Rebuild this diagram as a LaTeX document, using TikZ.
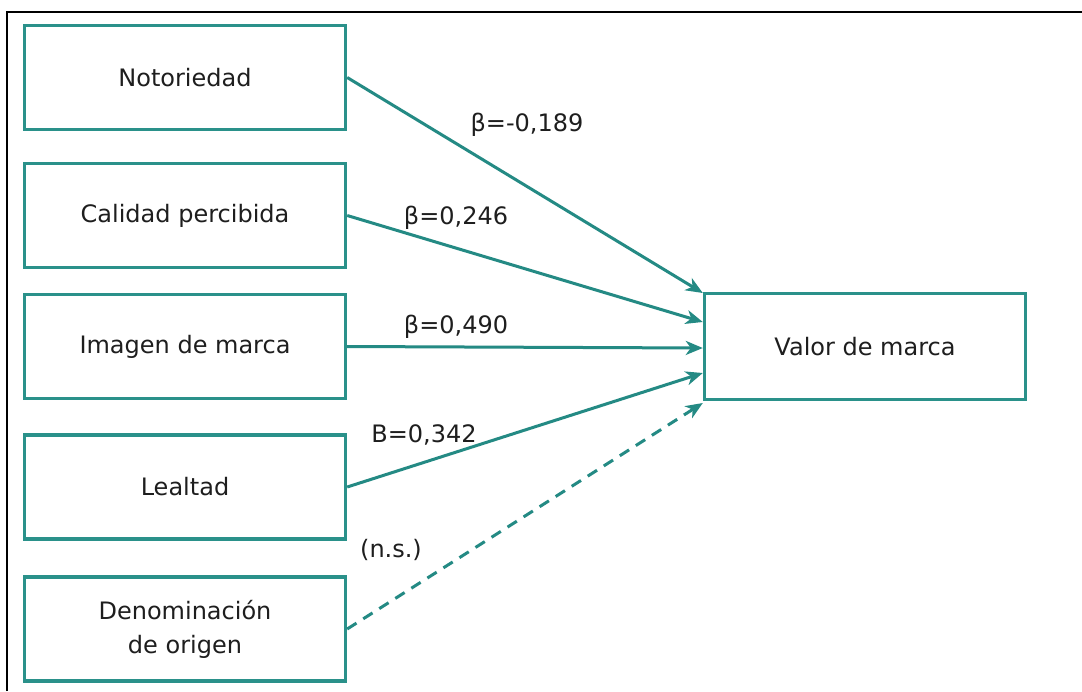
\documentclass[tikz,border=0pt]{standalone}
\usepackage{fontspec}
\setmainfont{DejaVu Sans}
\usetikzlibrary{positioning,arrows.meta,calc}
\definecolor{tealbox}{RGB}{42,145,138}
\definecolor{tealline}{RGB}{36,138,132}
\definecolor{texto}{RGB}{30,30,30}

\begin{document}
\begin{tikzpicture}[x=1pt, y=-1pt, >={Stealth[length=17pt,width=14pt,inset=5pt]},
    caja/.style={draw=tealbox, line width=3.4pt, minimum width=321pt, minimum height=104pt,
                 align=center, text=texto, font=\fontsize{24}{34}\selectfont},
    flecha/.style={->, tealline, line width=3pt},
    coef/.style={text=texto, font=\fontsize{24}{30}\selectfont, inner sep=0pt}]

    % Marco de la captura
    \useasboundingbox (0,0) rectangle (1082,691);
    \fill[white] (0,0) rectangle (1082,691);
    \draw[black, line width=2.4pt] (7,691) -- (7,12) -- (1082,12);

    % =========================================================================
    % DIMENSIONES (izquierda)
    % =========================================================================
    \node[caja] (notoriedad) at (185,77.5)  {Notoriedad};
    \node[caja] (calidad)    at (185,215.5) {Calidad percibida};
    \node[caja] (imagen)     at (185,346.5) {Imagen de marca};
    \node[caja] (lealtad)    at (185,487)   {Lealtad};
    \node[caja] (origen)     at (185,629)   {Denominación\\de origen};

    % =========================================================================
    % VALOR DE MARCA (derecha)
    % =========================================================================
    \node[caja, minimum height=106pt] (valor) at (865,346.5) {Valor de marca};

    % Puntos de llegada sobre el lado izquierdo
    \coordinate (llegada1) at ([yshift=53.5pt]valor.west);
    \coordinate (llegada2) at ([yshift=24.5pt]valor.west);
    \coordinate (llegada3) at ([yshift=-1.5pt]valor.west);
    \coordinate (llegada4) at ([yshift=-26.5pt]valor.west);
    \coordinate (llegada5) at ([yshift=-56.5pt]valor.west);

    % =========================================================================
    % FLECHAS
    % =========================================================================
    \draw[flecha] (notoriedad.east) -- (llegada1);
    \draw[flecha] (calidad.east) -- (llegada2);
    \draw[flecha] (imagen.east) -- (llegada3);
    \draw[flecha] (lealtad.east) -- (llegada4);
    \draw[flecha, dash pattern=on 11pt off 8pt] (origen.east) -- (llegada5);

    % =========================================================================
    % COEFICIENTES
    % =========================================================================
    \node[coef] (b1) at (527,125) {β=-0,189};
    \node[coef] (b2) at (456,218) {β=0,246};
    \node[coef] (b3) at (456,327) {β=0,490};
    \node[coef] (b4) at (424,435) {B=0,342};
    \node[coef] (ns) at (391,550) {(n.s.)};

\end{tikzpicture}
\end{document}
